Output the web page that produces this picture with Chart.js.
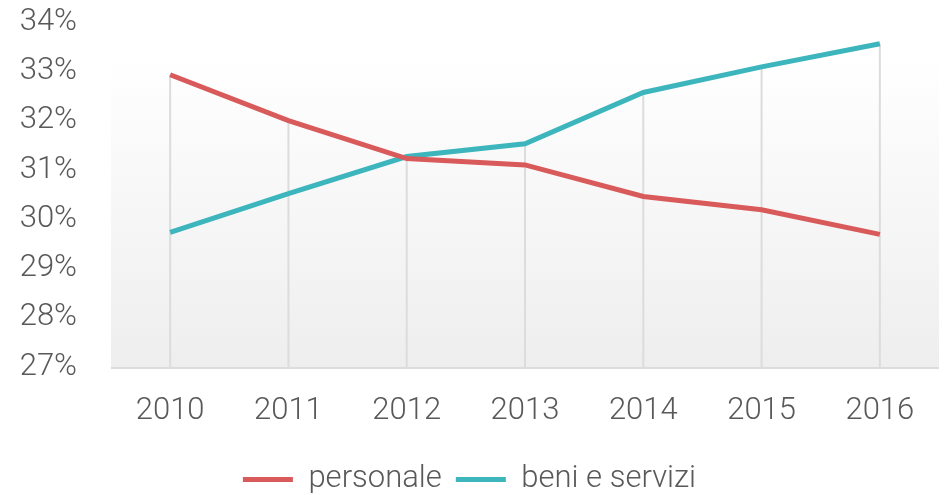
<!DOCTYPE html>
<html lang="it">
<head>
    <meta charset="UTF-8">
    <title>Personale vs beni e servizi</title>
    <script src="https://cdn.jsdelivr.net/npm/chart.js"></script>
    <style>
        body { margin: 0; background: #fff; }
        #wrap { width: 944px; height: 495px; }
    </style>
</head>
<body>
    <div id="wrap">
        <canvas id="spesaChart"></canvas>
    </div>
    <script>
        const anni = ['2010', '2011', '2012', '2013', '2014', '2015', '2016'];
        const personale = [32.93, 32.0, 31.23, 31.1, 30.46, 30.19, 29.69];
        const beniServizi = [29.73, 30.52, 31.27, 31.53, 32.57, 33.09, 33.56];
        const yMin = 27, yMax = 34;

        const testo = '#595959';
        const fontBase = { family: 'Roboto', weight: '300', size: 31 };

        // sfondo sfumato dell'area del grafico
        const sfondo = {
            id: 'sfondo',
            beforeDraw(chart) {
                const { ctx, chartArea: a } = chart;
                const g = ctx.createLinearGradient(0, a.top, 0, a.bottom);
                g.addColorStop(0, '#ffffff');
                g.addColorStop(0.1, '#ffffff');
                g.addColorStop(1, '#eeeeee');
                ctx.save();
                ctx.fillStyle = g;
                ctx.fillRect(a.left, a.top, a.right - a.left, a.bottom - a.top);
                ctx.restore();
            }
        };

        // linee di proiezione dall'asse al punto più alto
        const lineeVerticali = {
            id: 'lineeVerticali',
            beforeDatasetsDraw(chart) {
                const { ctx, scales: { x, y } } = chart;
                ctx.save();
                ctx.strokeStyle = '#dcdcdc';
                ctx.lineWidth = 2;
                anni.forEach((a, i) => {
                    const top = Math.max(personale[i], beniServizi[i]);
                    const px = x.getPixelForValue(i);
                    ctx.beginPath();
                    ctx.moveTo(px, y.getPixelForValue(yMin));
                    ctx.lineTo(px, y.getPixelForValue(top));
                    ctx.stroke();
                });
                // asse x
                ctx.beginPath();
                ctx.moveTo(chart.chartArea.left, y.getPixelForValue(yMin) + 1);
                ctx.lineTo(chart.chartArea.right, y.getPixelForValue(yMin) + 1);
                ctx.stroke();
                ctx.restore();
            }
        };

        new Chart(document.getElementById('spesaChart'), {
            type: 'line',
            data: {
                labels: anni,
                datasets: [
                    { label: 'personale', data: personale, borderColor: '#d95a5a', backgroundColor: '#d95a5a', borderWidth: 5, pointRadius: 0, tension: 0 },
                    { label: 'beni e servizi', data: beniServizi, borderColor: '#3db5bd', backgroundColor: '#3db5bd', borderWidth: 5, pointRadius: 0, tension: 0 }
                ]
            },
            options: {
                responsive: true,
                maintainAspectRatio: false,
                animation: false,
                layout: { padding: { top: 22, right: 5, bottom: -10, left: 0 } },
                plugins: {
                    legend: {
                        position: 'bottom',
                        labels: {
                            color: testo,
                            font: fontBase,
                            boxWidth: 50,
                            boxHeight: 5,
                            padding: 14,
                            generateLabels(chart) {
                                return Chart.defaults.plugins.legend.labels.generateLabels(chart)
                                    .map(it => Object.assign(it, { lineWidth: 0 }));
                            }
                        }
                    },
                    tooltip: { enabled: false }
                },
                scales: {
                    x: {
                        offset: true,
                        grid: { display: false, drawTicks: false },
                        border: { display: false },
                        ticks: { color: testo, font: fontBase, padding: 26, maxRotation: 0, autoSkip: false },
                        afterFit(scale) { scale.height = 83; }
                    },
                    y: {
                        min: yMin,
                        max: yMax,
                        grid: { display: false, drawTicks: false },
                        border: { display: false },
                        ticks: {
                            stepSize: 1,
                            autoSkip: false,
                            color: testo,
                            font: fontBase,
                            padding: 34,
                            callback: v => v + '%'
                        },
                        afterFit(scale) {
                            scale.width = 111;
                            // il padding delle etichette non deve spostare l'area del grafico
                            scale.paddingTop = 0;
                            scale.paddingBottom = 0;
                        }
                    }
                }
            },
            plugins: [sfondo, lineeVerticali]
        });
    </script>
</body>
</html>
